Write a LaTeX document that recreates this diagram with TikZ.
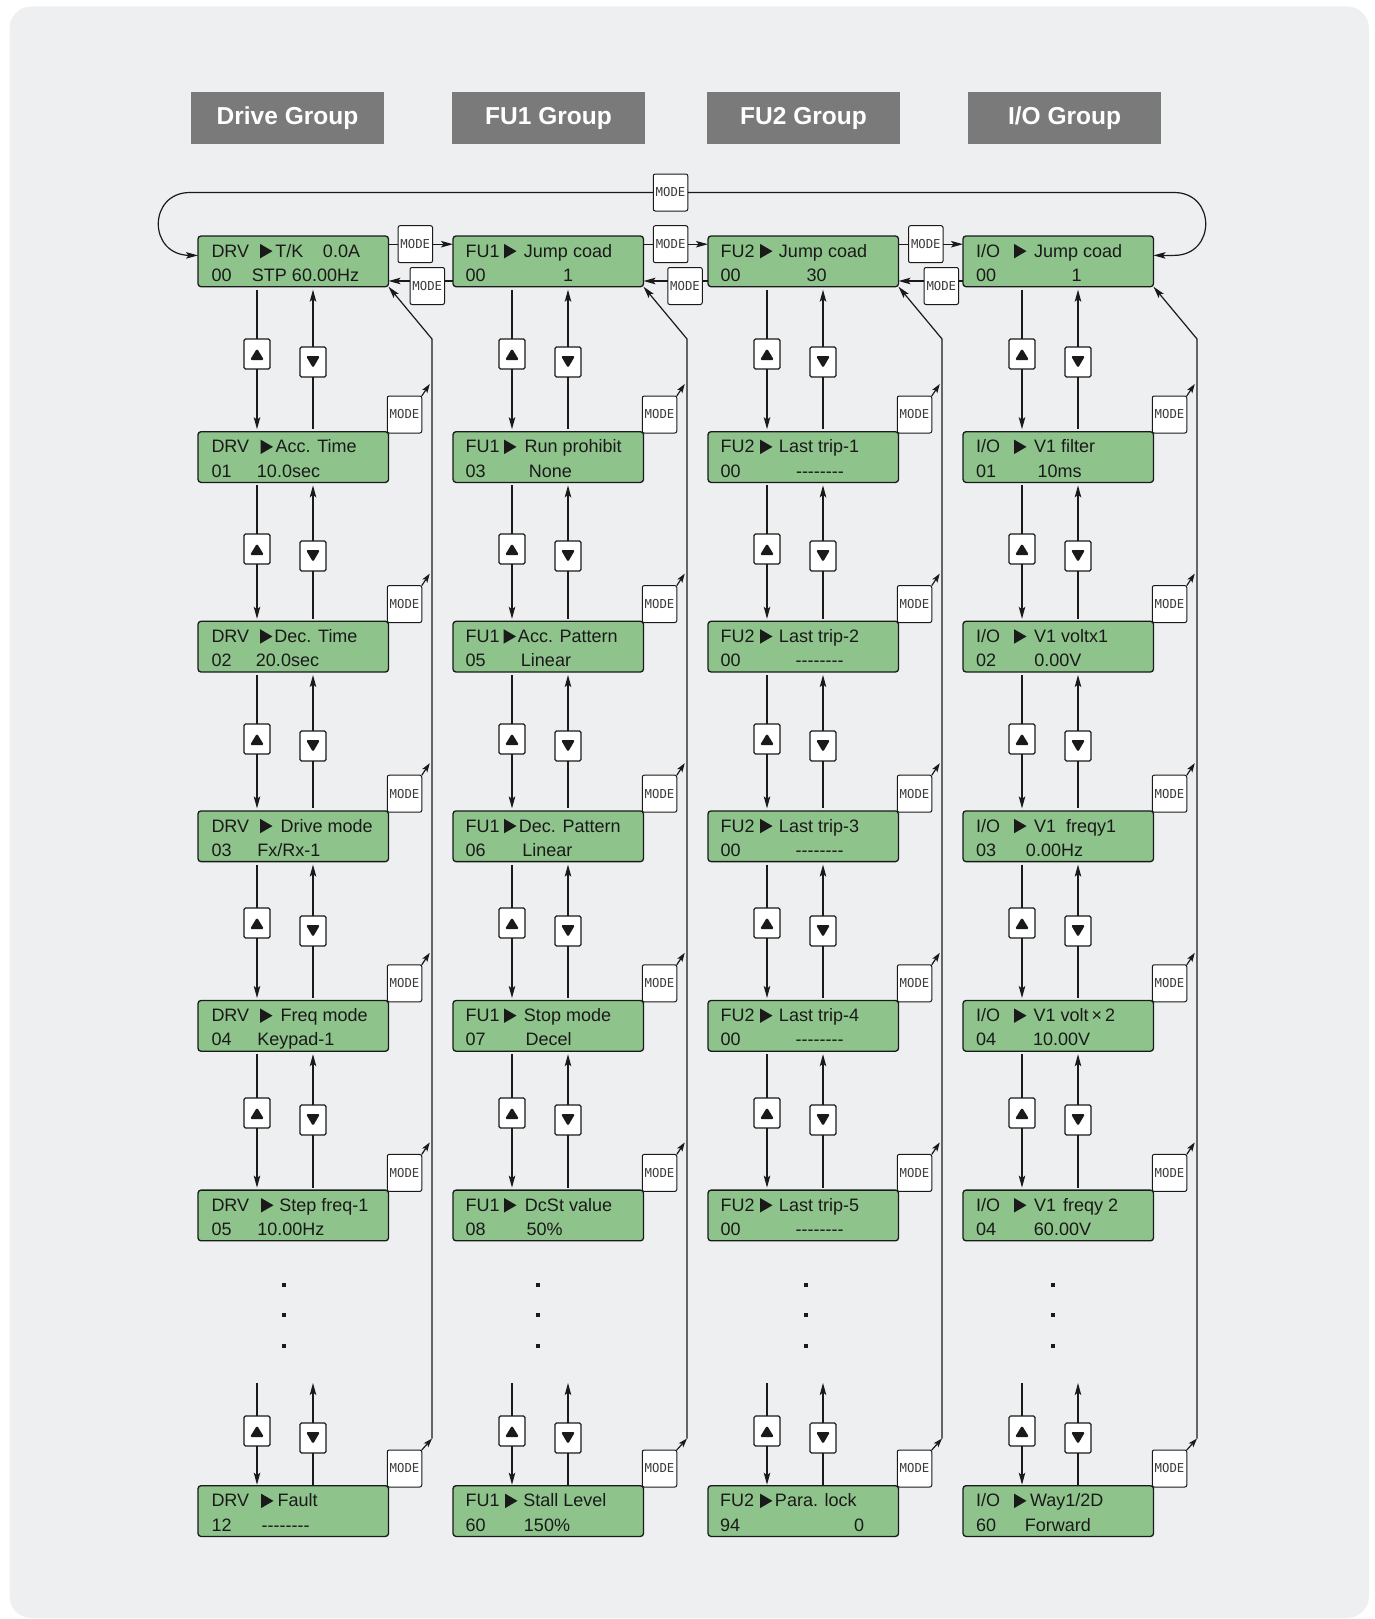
\documentclass[tikz,border=0pt]{standalone}
\usepackage{fontspec}
\setmainfont{Liberation Sans}
\newfontfamily\modefont{DejaVu Sans Mono}
\usetikzlibrary{arrows.meta,calc}
\definecolor{bgcol}{HTML}{EEEFF1}
\definecolor{lcdgreen}{HTML}{8FC38C}
\definecolor{hdrgray}{HTML}{7A7A7A}
\definecolor{ink}{HTML}{1A1A1A}
\newcommand\txtat[2]{\makebox[0pt][l]{\hspace*{#1pt}#2}}
\newcommand\dashes{-{}-{}-{}-{}-{}-{}-{}-}
\newcommand\lcdbox[2]{\vbox to 50.7pt{\offinterlineskip\kern21.2pt\hbox to 190.5pt{\smash{#1}\hss}\kern24.2pt\hbox to 190.5pt{\smash{#2}\hss}\vss}}
\newcommand\lcdnode[6]{%
  \node[lcd] (#1) at (#2,#3) {\lcdbox{#5}{#6}};
  \fill[ink] ($(#1.north west)+(#4,22.4)$) -- ++(0,-14.5) -- ++(12.5,7.25) -- cycle;}
\tikzset{
  lcd/.style={draw=ink, line width=1.3pt, fill=lcdgreen, rounded corners=3pt, inner sep=0pt, outer sep=0pt, anchor=north west, font=\fontsize{18}{20}\selectfont, text=ink},
  btn/.style={draw=ink, line width=1.1pt, fill=white, rounded corners=1.5pt, minimum width=26pt, minimum height=30pt, inner sep=0pt, outer sep=0pt},
  upbtn/.style={btn, path picture={\fill[ink] ($(path picture bounding box.center)+(0,-5.5)$) -- ($(path picture bounding box.center)+(7,6)$) -- ($(path picture bounding box.center)+(-7,6)$) -- cycle;}},
  dnbtn/.style={btn, path picture={\fill[ink] ($(path picture bounding box.center)+(0,6)$) -- ($(path picture bounding box.center)+(7,-6)$) -- ($(path picture bounding box.center)+(-7,-6)$) -- cycle;}},
  modebox/.style={draw=ink, line width=1pt, fill=white, rounded corners=2pt, minimum width=34.5pt, minimum height=37pt, inner sep=0pt, outer sep=0pt, font=\modefont\fontsize{12.3}{13}\selectfont, text=ink!85},
  hdr/.style={fill=hdrgray, text=white, minimum width=193pt, minimum height=52pt, inner sep=0pt, font=\bfseries\fontsize{24.5}{26}\selectfont},
  arr/.style={-{Stealth[length=12pt,width=6.5pt,inset=2.5pt]}},
  smallarr/.style={-{Stealth[length=9pt,width=6pt,inset=2pt]}}
}
\begin{document}
\begin{tikzpicture}[x=1pt,y=-1pt,line width=1.2pt,color=ink]
\useasboundingbox (0,0) rectangle (1374,1619);
\fill[white] (0,0) rectangle (1374,1619);
\fill[bgcol, rounded corners=22pt] (9.5,6.5) rectangle (1369,1618);

% headers
\node[hdr] (h0) at (287.5,118) {Drive Group};
\node[hdr] (h1) at (548.5,118) {FU1 Group};
\node[hdr] (h2) at (803.5,118) {FU2 Group};
\node[hdr] (h3) at (1064.5,118) {I/O Group};

% row 0
\lcdnode{b00}{198}{236}{62}{\txtat{13.5}{DRV}\txtat{77.5}{T/K}\txtat{125}{0.0A}}{\txtat{13.5}{00}\txtat{54}{STP 60.00Hz}}
\lcdnode{b10}{453}{236}{51}{\txtat{12.7}{FU1}\txtat{71}{Jump coad}}{\txtat{12.7}{00}\txtat{110}{1}}
\lcdnode{b20}{708}{236}{52}{\txtat{12.7}{FU2}\txtat{71}{Jump coad}}{\txtat{12.7}{00}\txtat{98.7}{30}}
\lcdnode{b30}{963}{236}{51}{\txtat{13}{I/O}\txtat{71}{Jump coad}}{\txtat{13}{00}\txtat{108.7}{1}}
% row 1
\lcdnode{b01}{198}{431.7}{62.5}{\txtat{13.5}{DRV}\txtat{77.6}{Acc. Time}}{\txtat{13.5}{01}\txtat{59}{10.0sec}}
\lcdnode{b11}{453}{431.7}{51}{\txtat{12.7}{FU1}\txtat{71.6}{Run prohibit}}{\txtat{12.7}{03}\txtat{75.8}{None}}
\lcdnode{b21}{708}{431.7}{52}{\txtat{12.7}{FU2}\txtat{71}{Last trip-1}}{\txtat{12.7}{00}\txtat{88}{\dashes}}
\lcdnode{b31}{963}{431.7}{51}{\txtat{13}{I/O}\txtat{71}{V1 filter}}{\txtat{13}{01}\txtat{74.5}{10ms}}
% row 2
\lcdnode{b02}{198}{621.3}{62}{\txtat{13.5}{DRV}\txtat{76.5}{Dec. Time}}{\txtat{13.5}{02}\txtat{58}{20.0sec}}
\lcdnode{b12}{453}{621.3}{50.6}{\txtat{12.7}{FU1}\txtat{65}{Acc. Pattern}}{\txtat{12.7}{05}\txtat{68}{Linear}}
\lcdnode{b22}{708}{621.3}{52}{\txtat{12.7}{FU2}\txtat{71}{Last trip-2}}{\txtat{12.7}{00}\txtat{87.7}{\dashes}}
\lcdnode{b32}{963}{621.3}{51}{\txtat{13}{I/O}\txtat{71}{V1 voltx1}}{\txtat{13}{02}\txtat{71.3}{0.00V}}
% row 3
\lcdnode{b03}{198}{810.9}{62}{\txtat{13.5}{DRV}\txtat{82.7}{Drive mode}}{\txtat{13.5}{03}\txtat{59.3}{Fx/Rx-1}}
\lcdnode{b13}{453}{810.9}{51}{\txtat{12.7}{FU1}\txtat{66}{Dec. Pattern}}{\txtat{12.7}{06}\txtat{69.3}{Linear}}
\lcdnode{b23}{708}{810.9}{52}{\txtat{12.7}{FU2}\txtat{71}{Last trip-3}}{\txtat{12.7}{00}\txtat{87.7}{\dashes}}
\lcdnode{b33}{963}{810.9}{51}{\txtat{13}{I/O}\txtat{71}{V1}\txtat{103}{freqy1}}{\txtat{13}{03}\txtat{63}{0.00Hz}}
% row 4
\lcdnode{b04}{198}{1000.5}{62}{\txtat{13.5}{DRV}\txtat{82.7}{Freq mode}}{\txtat{13.5}{04}\txtat{59.3}{Keypad-1}}
\lcdnode{b14}{453}{1000.5}{51}{\txtat{12.7}{FU1}\txtat{71}{Stop mode}}{\txtat{12.7}{07}\txtat{72.7}{Decel}}
\lcdnode{b24}{708}{1000.5}{52}{\txtat{12.7}{FU2}\txtat{71}{Last trip-4}}{\txtat{12.7}{00}\txtat{87.7}{\dashes}}
\lcdnode{b34}{963}{1000.5}{51}{\txtat{13}{I/O}\txtat{70.5}{V1 volt\,×\,2}}{\txtat{13}{04}\txtat{70}{10.00V}}
% row 5
\lcdnode{b05}{198}{1190.1}{63}{\txtat{13.5}{DRV}\txtat{81.3}{Step freq-1}}{\txtat{13.5}{05}\txtat{59.3}{10.00Hz}}
\lcdnode{b15}{453}{1190.1}{51}{\txtat{12.7}{FU1}\txtat{72}{DcSt value}}{\txtat{12.7}{08}\txtat{73.7}{50\%}}
\lcdnode{b25}{708}{1190.1}{52}{\txtat{12.7}{FU2}\txtat{71}{Last trip-5}}{\txtat{12.7}{00}\txtat{87.7}{\dashes}}
\lcdnode{b35}{963}{1190.1}{51}{\txtat{13}{I/O}\txtat{71}{V1}\txtat{100}{freqy 2}}{\txtat{13}{04}\txtat{71}{60.00V}}
% last row
\lcdnode{b06}{198}{1485.7}{63}{\txtat{13.5}{DRV}\txtat{79.7}{Fault}}{\txtat{13.5}{12}\txtat{63.7}{\dashes}}
\lcdnode{b16}{453}{1485.7}{52}{\txtat{12.7}{FU1}\txtat{70.3}{Stall Level}}{\txtat{12.7}{60}\txtat{71}{150\%}}
\lcdnode{b26}{708}{1485.7}{52}{\txtat{12}{FU2}\txtat{67}{Para. lock}}{\txtat{12}{94}\txtat{146}{0}}
\lcdnode{b36}{963}{1485.7}{51}{\txtat{13}{I/O}\txtat{67}{Way1/2D}}{\txtat{13}{60}\txtat{62}{Forward}}

% row 0 mode keys between groups
\node[modebox] (mt) at (670.5,192.5) {MODE};
\node[modebox] (mr0) at (415.3,244.2) {MODE};
\node[modebox] (ml0) at (427.3,286) {MODE};
\node[modebox] (mr1) at (670.6,244.2) {MODE};
\node[modebox] (ml1) at (685,286) {MODE};
\node[modebox] (mr2) at (925.8,244.2) {MODE};
\node[modebox] (ml2) at (941.3,286) {MODE};
\coordinate (yb) at (0,281);
\coordinate (yl) at (0,255.4);
\foreach \c in {0,1,2}{
  \pgfmathtruncatemacro\nc{\c+1}
  \draw (b\c0.east |- mr\c) -- (mr\c.west);
  \draw[arr] (mr\c.east) -- (mr\c -| b\nc0.west);
  \draw (b\nc0.west |- yb) -- (ml\c.east |- yb);
  \draw[arr] (ml\c.west |- yb) -- (b\c0.east |- yb);
}
% top loop
\draw[arr] (mt.west) -- (190,192.5) .. controls (147.7,192.5) and (147.7,255.4) .. (190,255.4) -- (b00.west |- yl);
\draw[arr] (mt.east) -- (1174,192.5) .. controls (1216.3,192.5) and (1216.3,255.4) .. (1174,255.4) -- (b30.east |- yl);

% columns
\foreach \c/\xx in {0/198,1/453,2/708,3/963}{
  \foreach \r/\ua/\da in {0/354/362,1/549/556,2/739/746,3/923/931,4/1113/1120}{
    \pgfmathtruncatemacro\nr{\r+1}
    \node[upbtn] (u\c\r) at (\xx+59,\ua) {};
    \node[dnbtn] (d\c\r) at (\xx+115,\da) {};
    \draw[shorten <=3pt] (u\c\r |- b\c\r.south) -- (u\c\r.north);
    \draw[arr, shorten >=2.5pt] (u\c\r.south) -- (u\c\r |- b\c\nr.north);
    \draw[shorten <=2.5pt] (d\c\r |- b\c\nr.north) -- (d\c\r.south);
    \draw[arr, shorten >=3pt] (d\c\r.north) -- (d\c\r |- b\c\r.south);
  }
  \node[upbtn] (u\c6) at (\xx+59,1431) {};
  \node[dnbtn] (d\c6) at (\xx+115,1438) {};
  \coordinate (ut\c) at (\xx+59,1383);
  \coordinate (dt\c) at (\xx+115,1383);
  \draw (ut\c) -- (u\c6.north);
  \draw[arr, shorten >=1pt] (u\c6.south) -- (u\c6 |- b\c6.north);
  \draw (d\c6 |- b\c6.north) -- (d\c6.south);
  \draw[arr] (d\c6.north) -- (dt\c);
  \foreach \r/\ty in {1/431.7,2/621.3,3/810.9,4/1000.5,5/1190.1}{
    \node[modebox] (m\c\r) at (\xx+206.5,\ty-17.2) {MODE};
    \coordinate (q\c\r) at ($(m\c\r.north east)+(8,-12)$);
    \draw[smallarr] (m\c\r.north east) -- (q\c\r);
  }
  \node[modebox] (m\c6) at (\xx+206.5,1468.5) {MODE};
  \coordinate (rb\c) at (\xx+234,1438.5);
  \coordinate (rt\c) at (\xx+234,339);
  \draw[smallarr] (m\c6.north east) -- (rb\c);
  \draw[arr] (rb\c) -- (rt\c) -- (b\c0.south east);
}

% continuation dots
\foreach \dx in {284.3,538.3,806.3,1052.7}{
  \foreach \dy in {1285.3,1315.3,1345.7}{
    \fill[ink] (\dx-2,\dy-2) rectangle (\dx+2,\dy+2);
  }
}
\end{tikzpicture}
\end{document}
